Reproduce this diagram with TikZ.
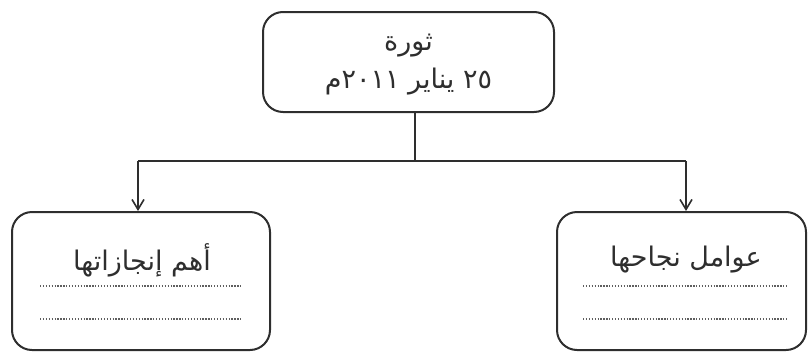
\documentclass[tikz,border=0pt]{standalone}
\usepackage{fontspec}
\usetikzlibrary{arrows.meta}
\TeXXeTstate=1
\newfontfamily\arabicfont[Script=Arabic]{DejaVu Sans}
\definecolor{ink}{HTML}{2E2E2E}
\definecolor{dotc}{HTML}{5E5E5E}
\begin{document}
\begin{tikzpicture}[x=1pt,y=-1pt,
  box/.style={draw=ink, line width=2pt, rounded corners=20pt, inner sep=0pt},
  lbl/.style={text=ink, font=\arabicfont\fontsize{27}{30}\selectfont, inner sep=0pt},
  dots/.style={draw=dotc, line width=1.5pt, dash pattern=on 1.3pt off 1.6pt},
  conn/.style={draw=ink, line width=2pt},
  arr/.style={conn, -{Straight Barb[length=10pt,width=12pt,line width=1.6pt]}}]
\useasboundingbox (0,0) rectangle (808,351);
\node[box, minimum width=291pt, minimum height=100pt] (top) at (408.5,62) {};
\node[box, minimum width=258pt, minimum height=138pt] (lb) at (141,281) {};
\node[box, minimum width=249pt, minimum height=138pt] (rb) at (681.5,281) {};
\node[lbl] (t1) at (408.5,46) {\beginR ثورة\endR};
\node[lbl] (t2) at (408.5,82) {\beginR ٢٥ يناير ٢٠١١م\endR};
\node[lbl] (lt) at (142,260) {\beginR أهم إنجازاتها\endR};
\node[lbl] (rt) at (686,260) {\beginR عوامل نجاحها\endR};
\coordinate (j) at (415,161);
\coordinate (la) at (138,161);
\coordinate (ra) at (686,161);
\draw[conn] (top.south -| j) -- (j);
\draw[conn] (la) -- (ra);
\draw[arr] (la) -- (lb.north -| la);
\draw[arr] (ra) -- (rb.north -| ra);
\coordinate (l1a) at (40,286); \coordinate (l1b) at (242,286);
\coordinate (l2a) at (40,319); \coordinate (l2b) at (242,319);
\coordinate (r1a) at (583,286); \coordinate (r1b) at (787,286);
\coordinate (r2a) at (583,319); \coordinate (r2b) at (787,319);
\draw[dots] (l1a) -- (l1b);
\draw[dots] (l2a) -- (l2b);
\draw[dots] (r1a) -- (r1b);
\draw[dots] (r2a) -- (r2b);
\end{tikzpicture}
\end{document}
